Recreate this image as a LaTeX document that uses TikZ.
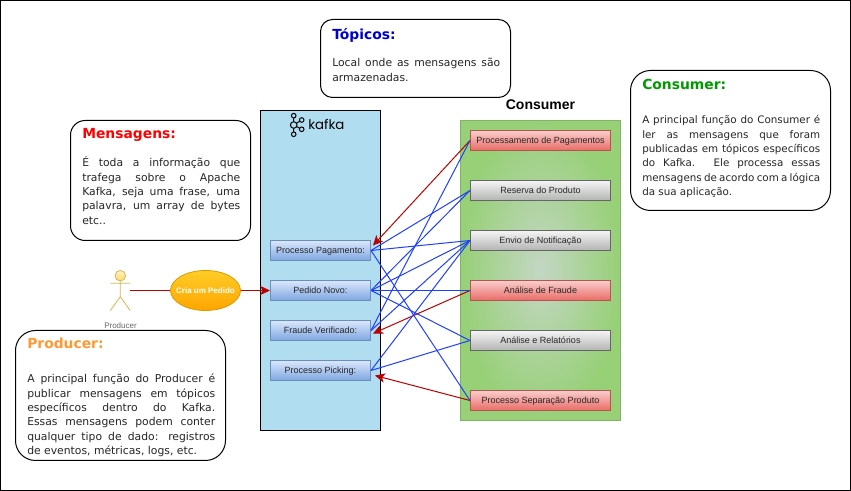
\documentclass[tikz,border=0pt]{standalone}
\usepackage{fontspec}
\setmainfont{Liberation Sans}
\newfontfamily\notefont{DejaVu Sans}
\newfontfamily\logofont{Poppins}
\usetikzlibrary{positioning}
\usetikzlibrary{arrows.meta}
\usetikzlibrary{shapes.geometric}
\definecolor{kafkablue}{HTML}{B1DDF0}
\definecolor{redtip}{HTML}{BB0000}
\definecolor{blueline}{HTML}{1F3FFF}
\definecolor{redtop}{HTML}{F8CECC}
\definecolor{redbottom}{HTML}{EA6B66}
\definecolor{reddraw}{HTML}{B85450}
\definecolor{greytop}{HTML}{F5F5F5}
\definecolor{greybottom}{HTML}{B3B3B3}
\definecolor{greydraw}{HTML}{666666}
\definecolor{bluetop}{HTML}{DAE8FC}
\definecolor{bluebottom}{HTML}{7EA6E0}
\definecolor{bluedraw}{HTML}{6C8EBF}
\definecolor{actortop}{HTML}{FFF2CC}
\definecolor{actorbottom}{HTML}{FFD966}
\definecolor{actordraw}{HTML}{D6B656}
\tikzset{
    note/.style = {draw, fill=white, line width=0.75pt, minimum width=#1*0.75pt, inner sep=0pt},
    notetitle/.style = {anchor=base west, inner sep=0pt, font=\notefont\bfseries\fontsize{10.4pt}{13pt}\selectfont},
    notebody/.style = {anchor=base west, inner sep=0pt, align=justify, text=black!85, font=\notefont\fontsize{8.1pt}{10.7pt}\selectfont},
    item/.style = {draw, minimum width=105pt, minimum height=15pt, inner sep=0pt, line width=0.75pt, text=black!85, text height=6.5pt, text depth=1.5pt, font=\fontsize{6.75pt}{8pt}\selectfont},
    redbox/.style = {item, draw=reddraw, top color=redtop, bottom color=redbottom},
    greybox/.style = {item, draw=greydraw, top color=greytop, bottom color=greybottom},
    topicbox/.style = {item, minimum width=75pt, draw=bluedraw, top color=bluetop, bottom color=bluebottom},
    link/.style = {line width=0.75pt, blueline},
    redlink/.style = {line width=0.75pt, redtip, -{Stealth[length=7.5pt,width=7pt,inset=2pt]}},
    actorline/.style = {line width=0.6pt, draw=actordraw}
}
\begin{document}
\begin{tikzpicture}[x=0.75pt,y=-0.75pt]
    \useasboundingbox (0,0) rectangle (851,491);
    \draw[line width=1.1pt] (0.7,0.7) rectangle (850.3,490.3);

    % caixas de texto
    \node[note=180, minimum height=90pt, rounded corners=11pt] (msgbox) at (160.5,180.5) {};
    \node[note=190, minimum height=58.5pt, rounded corners=9pt] (topbox) at (415.5,58.5) {};
    \node[note=200, minimum height=105pt, rounded corners=15pt] (conbox) at (730.5,140.5) {};
    \node[note=210, minimum height=97.5pt, rounded corners=15pt] (probox) at (120.5,395.5) {};

    \node[notetitle, text={rgb,255:red,255;green,0;blue,0}] (msgtitle) at (82,139) {Mensagens:};
    \node[notebody, text width=118.5pt] (msgtext) at (82,167) {É toda a informação que\linebreak trafega sobre o Apache\linebreak Kafka, seja uma frase, uma\linebreak palavra, um array de bytes\linebreak etc..};
    \node[notetitle, text={rgb,255:red,0;green,0;blue,204}] (toptitle) at (332,40) {Tópicos:};
    \node[notebody, text width=126pt] (toptext) at (332,67) {Local onde as mensagens são\linebreak armazenadas.};
    \node[notetitle, text={rgb,255:red,0;green,153;blue,0}] (contitle) at (642,90) {Consumer:};
    \node[notebody, text width=133.5pt, font=\notefont\fontsize{7.75pt}{10.7pt}\selectfont] (context) at (642,124) {A principal função do Consumer é\linebreak ler as mensagens que foram\linebreak publicadas em tópicos específicos\linebreak do Kafka. Ele processa essas\linebreak mensagens de acordo com a lógica\linebreak da sua aplicação.};
    \node[notetitle, text={rgb,255:red,255;green,153;blue,51}] (protitle) at (27,349) {Producer:};
    \node[notebody, text width=141pt] (protext) at (27,383) {A principal função do Producer é\linebreak publicar mensagens em tópicos\linebreak específicos dentro do Kafka.\linebreak Essas mensagens podem conter\linebreak qualquer tipo de dado: registros\linebreak de eventos, métricas, logs, etc.};

    % kafka
    \node[draw, fill=kafkablue, line width=0.75pt, minimum width=90pt, minimum height=240pt, inner sep=0pt] (kafka) at (320.5,270.5) {};
    \draw[line width=0.75pt] (293.7,115.7) -- (293.7,134.3) (293.7,125) -- (301.7,120) (293.7,125) -- (301.7,129.3);
    \foreach \cx/\cy/\cr in {293.7/115.7/2.3, 293.7/125/3.3, 293.7/134.3/2.3, 301.7/120/2.3, 301.7/129.3/2.3}
        \draw[fill=kafkablue, line width=0.75pt] (\cx,\cy) circle[radius=\cr];
    \node[anchor=base west, inner sep=0pt, font=\logofont\fontsize{10pt}{12pt}\selectfont] (kafkaname) at (308,130) {kafka};

    \node[topicbox] (pagto) at (320.5,250.5) {Processo Pagamento:};
    \node[topicbox] (novo) at (320.5,290.5) {Pedido Novo:};
    \node[topicbox] (fraude) at (320.5,330.5) {Fraude Verificado:};
    \node[topicbox] (picking) at (320.5,370.5) {Processo Picking:};

    % consumer
    \node[font=\bfseries\fontsize{10.5pt}{12pt}\selectfont] (conlabel) at (540.5,105) {Consumer};
    \node[draw={rgb,255:red,130;green,179;blue,102}, minimum width=120pt, minimum height=225pt, inner sep=0pt, line width=0.75pt, inner color={rgb,255:red,196;green,214;blue,196}, outer color={rgb,255:red,151;green,208;blue,119}] (congroup) at (540.5,270.5) {};
    \node[redbox] (cpagto) at (540.5,140.5) {Processamento de Pagamentos};
    \node[greybox] (creserva) at (540.5,190.5) {Reserva do Produto};
    \node[greybox] (cenvio) at (540.5,240.5) {Envio de Notificação};
    \node[redbox] (cfraude) at (540.5,290.5) {Análise de Fraude};
    \node[greybox] (crelat) at (540.5,340.5) {Análise e Relatórios};
    \node[redbox] (csepara) at (540.5,400.5) {Processo Separação Produto};

    % producer
    \draw[actorline, top color=actortop, bottom color=actorbottom] (120.3,275.7) circle[radius=5.3];
    \draw[actorline] (120.3,281) -- (120.3,296.7) -- (110.3,310.7) (120.3,296.7) -- (130.3,310.7) (110.3,283.3) -- (130.3,283.3);
    \coordinate (actor) at (130.3,290.5);
    \node[text=black!60, inner sep=0pt, font=\fontsize{6pt}{7pt}\selectfont] (actorname) at (120.5,325.5) {Producer};
    \node[ellipse, draw={rgb,255:red,215;green,155;blue,0}, minimum width=52.5pt, minimum height=30pt, inner sep=0pt, line width=0.6pt, top color={rgb,255:red,255;green,205;blue,40}, bottom color={rgb,255:red,255;green,165;blue,0}] (pedido) at (205.5,290.5) {};
    \node[text=white, inner sep=0pt, font=\bfseries\fontsize{6pt}{7pt}\selectfont] (pedidotxt) at (205.5,291) {Cria um Pedido};

    \draw[redtip, line width=0.75pt] (actor) -- (pedido);
    \draw[redlink] (pedido) -- (novo);

    % ligacoes
    \draw[redlink] (cpagto.west) -- ([shift={(2,-5)}]pagto.east);
    \draw[redlink] (cfraude.west) -- ([shift={(2,3)}]fraude.east);
    \draw[redlink] (csepara.west) -- ([shift={(4,5)}]picking.east);

    \draw[link] (pagto.east) -- (cenvio.west);
    \draw[link] (pagto.east) -- (creserva.west);
    \draw[link] (pagto.east) -- (csepara.west);
    \draw[link] (novo.east) -- (creserva.west);
    \draw[link] (novo.east) -- (cenvio.west);
    \draw[link] (novo.east) -- (cfraude.west);
    \draw[link] (novo.east) -- (crelat.west);
    \draw[link] (fraude.east) -- (cpagto.west);
    \draw[link] (fraude.east) -- (cenvio.west);
    \draw[link] (picking.east) -- (cenvio.west);
    \draw[link] (picking.east) -- (crelat.west);
\end{tikzpicture}
\end{document}
